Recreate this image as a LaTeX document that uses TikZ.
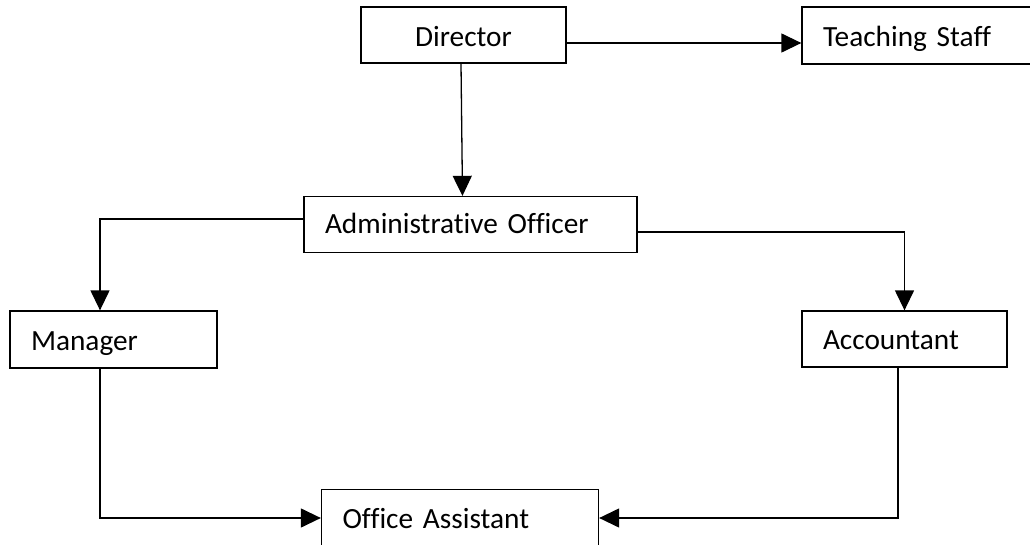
\documentclass[tikz,border=0pt]{standalone}
\usepackage{fontspec}
\setmainfont{Carlito}[Ligatures=NoCommon, WordSpace=0.8]
\usetikzlibrary{arrows.meta}
\begin{document}
\begin{tikzpicture}[x=1pt,y=-1pt,
  box/.style={draw=black, line width=1.3pt, rectangle, inner ysep=0pt, inner xsep=21pt,
    font=\fontsize{29.3}{31}\selectfont, align=left, text height=21.6pt, text depth=0pt},
  conn/.style={draw=black, line width=1.3pt, -{Triangle[length=20pt,width=19pt]}}]
\useasboundingbox[fill=white] (0,0) rectangle (1030,545);
% boxes
\node[box, minimum height=56pt, text width=163pt, align=center, text height=23.4pt] (dir) at (463.5,35) {Director};
\node[box, minimum height=57pt, text width=196pt, text height=22.4pt] (ts) at (921,35.5) {Teaching Staff};
\node[box, minimum height=56pt, text width=291pt, text height=19pt] (ao) at (470.5,224.5) {Administrative Officer};
\node[box, minimum height=57pt, text width=165pt] (mgr) at (113.5,339.5) {Manager};
\node[box, minimum height=56pt, text width=163pt] (acc) at (904.5,339) {Accountant};
\node[box, minimum height=60pt, text width=235pt, text height=17.4pt] (oa) at (460,519.5) {Office Assistant};
% connectors
\draw[conn] ([yshift=-8pt]dir.east) -- ([yshift=-8pt]dir.east -| ts.west);
\draw[conn] ([xshift=-2.5pt]dir.south) -- ([xshift=-8pt]ao.north);
\draw[conn] ([yshift=5.5pt]ao.west) -| ([xshift=-13.5pt]mgr.north);
\draw[conn] ([yshift=-7.5pt]ao.east) -| (acc.north);
\draw[conn] ([xshift=-13.5pt]mgr.south) |- ([yshift=1.5pt]oa.west);
\draw[conn] ([xshift=-6.5pt]acc.south) |- ([yshift=1.5pt]oa.east);
\end{tikzpicture}
\end{document}
